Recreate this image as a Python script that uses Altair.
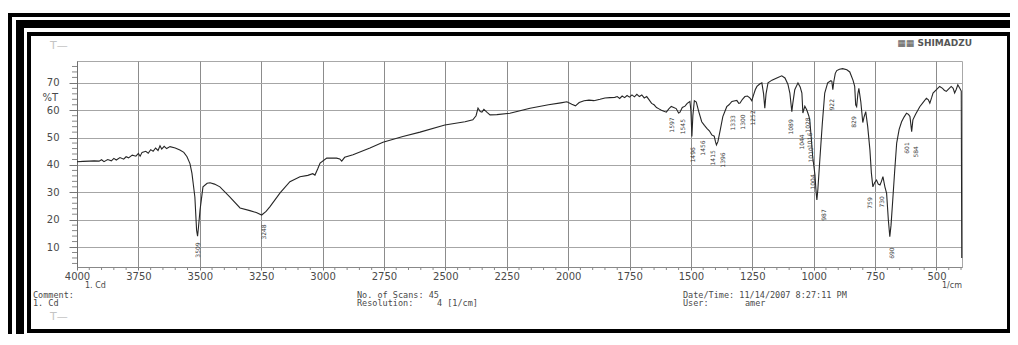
import altair as alt
import pandas as pd

# ---------------- data ----------------
wavenumber = [
    4000, 3975, 3950, 3930, 3910, 3900, 3890, 3875, 3860, 3850,
    3840, 3825, 3810, 3800, 3790, 3775, 3760, 3750, 3743, 3735,
    3720, 3710, 3700, 3690, 3680, 3670, 3662, 3655, 3645, 3635,
    3621, 3600, 3581, 3565, 3552, 3540, 3532, 3520, 3513, 3509,
    3505, 3499, 3487, 3470, 3458, 3440, 3418, 3380, 3336, 3296,
    3270, 3248, 3230, 3214, 3173, 3133, 3092, 3060, 3040, 3031,
    3020, 3010, 2983, 2943, 2930, 2922, 2910, 2876, 2807, 2754,
    2673, 2603, 2502, 2420, 2388, 2375, 2367, 2358, 2351, 2343,
    2330, 2318, 2290, 2237, 2155, 2080, 2030, 2005, 1985, 1970,
    1955, 1935, 1915, 1895, 1870, 1850, 1830, 1810, 1800, 1790,
    1780, 1770, 1760, 1750, 1740, 1730, 1720, 1710, 1700, 1690,
    1680, 1670, 1660, 1650, 1640, 1630, 1620, 1610, 1600, 1590,
    1580, 1570, 1560, 1550, 1545, 1535, 1524, 1515, 1504, 1500,
    1496, 1492, 1486, 1478, 1468, 1456, 1445, 1435, 1425, 1415,
    1405, 1400, 1396, 1390, 1380, 1370, 1354, 1345, 1333, 1320,
    1313, 1305, 1300, 1290, 1280, 1270, 1260, 1252, 1245, 1238,
    1231, 1220, 1211, 1204, 1199, 1194, 1186, 1170, 1150, 1130,
    1117, 1105, 1097, 1092, 1089, 1085, 1077, 1064, 1055, 1048,
    1044, 1036, 1028, 1020, 1016, 1010, 1004, 995, 990, 987,
    983, 975, 965, 955, 943, 930, 926, 922, 918, 912,
    906, 895, 882, 865, 853, 840, 833, 829, 825, 820,
    816, 808, 800, 795, 788, 780, 771, 765, 759, 752,
    744, 737, 730, 724, 718, 710, 703, 696, 690, 685,
    678, 670, 662, 652, 642, 632, 622, 614, 608, 601,
    596, 585, 568, 555, 541, 533, 527, 520, 514, 500,
    487, 475, 468, 460, 450, 440, 432, 426, 420, 413,
    405, 399, 397,
]
transmittance = [
    41.2, 41.3, 41.4, 41.5, 41.4, 41.9, 41.2, 42.0, 41.5, 42.4,
    41.8, 42.7, 42.1, 43.0, 42.6, 43.6, 43.2, 44.2, 43.2, 44.6,
    45.0, 44.3, 45.6, 45.0, 46.2, 45.3, 47.0, 45.8, 46.8, 46.0,
    46.7, 46.2, 45.5, 44.6, 43.0, 40.5, 37.0, 28.3, 16.2, 14.0,
    17.5, 23.5, 32.0, 33.3, 33.5, 33.0, 32.0, 28.5, 24.3, 23.3,
    22.6, 21.7, 23.0, 24.8, 29.8, 33.9, 35.7, 36.2, 36.8, 36.3,
    38.5, 40.7, 42.5, 42.5, 42.2, 41.4, 42.8, 43.7, 46.2, 48.3,
    50.4, 52.0, 54.6, 55.8, 56.5, 58.0, 60.8, 59.5, 59.3, 60.3,
    59.2, 58.3, 58.4, 58.9, 60.7, 62.0, 62.7, 63.1, 62.2, 61.6,
    62.8, 63.5, 63.7, 63.5, 64.0, 64.5, 64.6, 64.7, 65.0, 64.3,
    65.2, 64.6, 65.4, 64.8, 65.6, 64.9, 65.8, 65.0, 65.6, 64.5,
    65.0, 63.8, 62.5, 62.0, 61.0, 60.5, 60.0, 59.6, 59.3, 60.5,
    61.4, 61.0, 60.6, 59.0, 59.2, 61.0, 61.5, 62.5, 63.2, 60.0,
    50.4, 58.0, 63.5, 63.0, 59.5, 55.8, 54.5, 53.4, 52.5, 51.0,
    50.5, 48.5, 47.3, 48.5, 53.0, 57.7, 61.3, 62.0, 63.2, 63.5,
    63.6, 62.5, 62.6, 64.0, 65.0, 65.2, 64.5, 63.5, 65.5, 67.5,
    68.7, 69.6, 70.0, 66.0, 60.7, 66.0, 70.0, 71.0, 71.8, 72.6,
    71.8, 69.5, 66.3, 62.0, 59.5, 62.5, 67.5, 70.0, 68.5, 66.3,
    59.0, 61.5, 60.1, 58.0, 56.5, 50.0, 43.0, 36.5, 30.0, 27.2,
    31.0, 41.8, 55.0, 66.3, 70.0, 70.8, 70.6, 67.5, 70.5, 73.5,
    74.5, 75.0, 75.2, 74.8, 74.0, 71.0, 68.7, 62.0, 61.3, 66.0,
    68.0, 63.0, 55.5, 57.5, 59.5, 54.0, 45.5, 37.0, 32.0, 33.5,
    34.5, 33.0, 32.7, 34.0, 35.7, 32.0, 29.6, 20.0, 13.8, 18.0,
    27.2, 38.0, 48.0, 53.0, 55.8, 57.5, 58.9, 58.5, 57.7, 52.2,
    56.5, 58.5, 61.3, 62.8, 64.4, 63.8, 62.6, 64.5, 66.3, 67.5,
    68.7, 68.0, 67.3, 66.9, 67.8, 68.7, 68.0, 66.3, 67.5, 69.3,
    68.0, 67.0, 6.0,
]

# peak labels (printed vertically under the bands)
peak_wn = [3509, 3239, 1579, 1533, 1492, 1451, 1410, 1370, 1329, 1288,
           1248, 1093, 1048, 1024, 1016, 1012, 1004, 959, 926, 837,
           771, 722, 682, 621, 584]
peak_pos = [8.9, 15.5, 54.6, 54.0, 43.7, 46.2, 42.6, 41.8, 55.4, 55.7,
            57.2, 53.9, 48.4, 54.6, 49.0, 43.7, 33.8, 21.7, 62.0, 55.7,
            26.1, 26.5, 7.8, 46.2, 44.8]
peak_text = ["3509", "3248", "1597", "1545", "1496", "1456", "1415", "1396", "1333", "1300",
             "1252", "1089", "1044", "1028", "1016", "1010", "1004", "987", "922", "829",
             "759", "730", "690", "601", "584"]

x_ticks = [4000, 3750, 3500, 3250, 3000, 2750, 2500, 2250, 2000, 1750, 1500, 1250, 1000, 750, 500]
y_ticks = [10, 20, 30, 40, 50, 60, 70]
x_minor = [v for v in range(3950, 399, -50) if v % 250 != 0]
y_minor = [v for v in range(4, 78, 2) if v % 10 != 0]

# ---------------- layout ----------------
W, H = 885, 206
PL, PT = 69, 53
CW, CH = 1002, 326
PR = CW - PL - W
PB = CH - PT - H

xscale = alt.Scale(domain=[4000, 396], nice=False, zero=False)
yscale = alt.Scale(domain=[2.7, 78], nice=False, zero=False)

TXT = "#4a4a4a"
dummy = pd.DataFrame({"k": [0]})

x_axis = alt.Axis(values=x_ticks, format="d", grid=True, gridColor="#8c8c8c",
                  gridWidth=1, tickSize=3, tickColor="#777", labelPadding=1,
                  domainColor="#888", labelFontSize=10, labelColor=TXT,
                  labelFont="DejaVu Sans", labelFlush=False, title=None)
y_axis = alt.Axis(values=y_ticks, format="d", grid=True, gridColor="#a6a6a6",
                  gridWidth=1, tickSize=8, tickColor="#777", labelPadding=10,
                  domainColor="#6f6f6f", labelFontSize=10, labelColor=TXT,
                  labelFont="DejaVu Sans", title=None)

spec = pd.DataFrame({"wn": wavenumber, "T": transmittance})
line = alt.Chart(spec).mark_line(color="#262626", strokeWidth=1.1).encode(
    x=alt.X("wn:Q", scale=xscale, axis=x_axis, title=None),
    y=alt.Y("T:Q", scale=yscale, axis=y_axis, title=None),
)

xminor = alt.Chart(pd.DataFrame({"wn": x_minor})).mark_rule(color="#888", strokeWidth=1).encode(
    x=alt.X("wn:Q", scale=xscale, axis=x_axis, title=None), y=alt.value(H), y2=alt.value(H + 3))
yminor = alt.Chart(pd.DataFrame({"T": y_minor})).mark_rule(color="#888", strokeWidth=1).encode(
    y=alt.Y("T:Q", scale=yscale, axis=y_axis, title=None), x=alt.value(-5), x2=alt.value(0))

peaks = alt.Chart(pd.DataFrame({"wn": peak_wn, "T": peak_pos, "label": peak_text})).mark_text(
    angle=270, fontSize=6, color="#3a3a3a", font="DejaVu Sans").encode(
    x=alt.X("wn:Q", scale=xscale, axis=x_axis, title=None),
    y=alt.Y("T:Q", scale=yscale, axis=y_axis, title=None),
    text="label:N")


def rect(x1, x2, y1, y2):
    return alt.Chart(dummy).mark_rect(color="black").encode(
        x=alt.value(x1), x2=alt.value(x2), y=alt.value(y1), y2=alt.value(y2))


def label(txt, x, y, size=8.5, align="left", font="DejaVu Sans Mono", color=TXT, weight="normal"):
    return alt.Chart(dummy).mark_text(align=align, baseline="middle", fontSize=size, font=font,
                                      color=color, fontWeight=weight).encode(
        x=alt.value(x), y=alt.value(y), text=alt.value(txt))


frame = [
    rect(-69, 945, -48, -44), rect(-69, -65, -48, 290),
    rect(-61, 945, -41, -33), rect(-61, -53, -41, 290),
    rect(936, 945, -41, 290), rect(-61, 945, 275, 290),
    rect(-50, 933, -29, -25), rect(-50, -46, -29, 272),
    rect(930, 933, -29, 272), rect(-50, 933, 268, 272),
]

texts = [
    label("%T", -19, 37, size=10, align="right", font="DejaVu Sans"),
    label("1/cm", 885, 224.5, size=8, align="right", font="DejaVu Sans"),
    label("1. Cd", 8, 224.5, size=8, font="DejaVu Sans"),
    label("Comment:", -44, 233.5),
    label("1. Cd", -44, 242),
    label("No. of Scans: 45", 280, 233.5),
    label("Resolution:", 280, 242),
    label("4 [1/cm]", 360, 242),
    label("Date/Time: 11/14/2007 8:27:11 PM", 606, 233.5),
    label("User:", 606, 242),
    label("amer", 668, 242),
    label("▦▦ SHIMADZU", 895, -18, size=9, align="right", font="DejaVu Sans", color="#555", weight="bold"),
    label("T—", -27, -15, size=11, font="DejaVu Sans", color="#c4c4c4"),
    label("T—", -27, 256, size=11, font="DejaVu Sans", color="#c4c4c4"),
]

chart = alt.layer(line, xminor, yminor, peaks, *frame, *texts).properties(
    width=W, height=H,
    autosize=alt.AutoSizeParams(type="none"),
    padding={"left": PL, "top": PT, "right": PR, "bottom": PB},
    background="white",
).configure_view(stroke="#a8a8a8", strokeWidth=1)

chart.save("out.html", embed_options={"renderer": "svg", "actions": False})
